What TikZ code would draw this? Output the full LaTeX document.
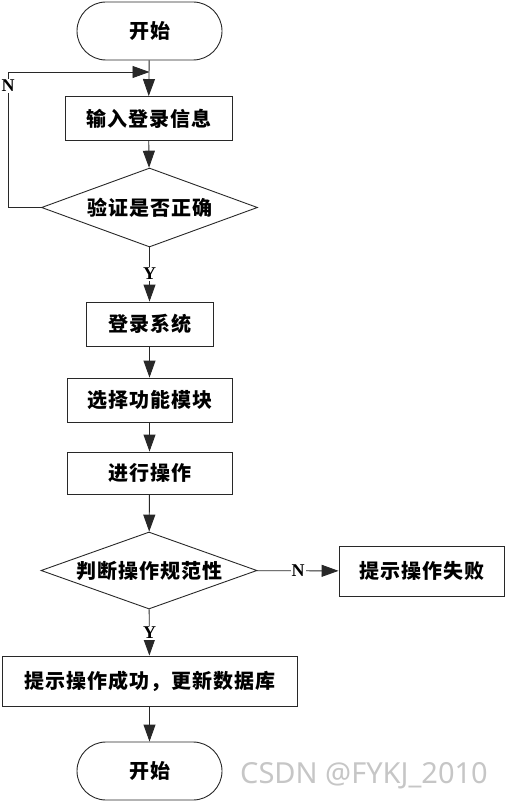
\documentclass[tikz,border=0pt]{standalone}
\usepackage{fontspec}
\setmainfont{Liberation Serif}
\newfontfamily\cjk{Noto Sans CJK SC}[LetterSpace=5]
\newfontfamily\wmfont{Noto Sans}
\usepackage{tikz}
\usetikzlibrary{shapes.geometric, arrows.meta, positioning}
\definecolor{edge}{RGB}{40, 40, 40}
\tikzstyle{terminal} = [rectangle, rounded corners=29pt, minimum width=145pt, minimum height=58pt, text centered, draw=edge, line width=0.9pt, font=\cjk\bfseries\fontsize{20}{23}\selectfont]
\tikzstyle{process} = [rectangle, minimum height=44pt, text centered, draw=edge, line width=0.9pt, font=\cjk\bfseries\fontsize{20}{23}\selectfont]
\tikzstyle{decision} = [diamond, aspect=2.7, inner sep=0pt, minimum width=216pt, minimum height=79pt, text centered, draw=edge, line width=0.9pt, font=\cjk\bfseries\fontsize{20}{23}\selectfont]
\tikzstyle{lbl} = [fill=white, inner sep=1pt, font=\bfseries\fontsize{18}{20}\selectfont]
\tikzstyle{arrow} = [line width=0.9pt, draw=edge, -{Triangle[width=12pt, length=17pt]}]

\begin{document}
\begin{tikzpicture}[x=1pt, y=-1pt]
    \useasboundingbox (0,0) rectangle (506,802);
    % Login part
    \node[terminal] (start) at (149.5, 31) {开始};
    \node[process, minimum width=167pt] (input) at (148.5, 118.5) {输入登录信息};
    \node[decision] (check) at (149.5, 207.5) {验证是否正确};
    \coordinate (join) at (149.5, 72);
    \coordinate (loopc) at (8, 72);
    
    % Main steps
    \node[process, minimum width=127pt] (login) at (149.5, 324) {登录系统};
    \node[process, minimum width=165pt] (choose) at (149.5, 400) {选择功能模块};
    \node[process, minimum width=165pt, minimum height=42pt] (operate) at (149.5, 473) {进行操作};
    \node[decision, minimum width=216pt, minimum height=77pt] (judge) at (149, 570.5) {判断操作规范性};
    \node[process, minimum width=165pt, minimum height=50pt] (fail) at (421.5, 571) {提示操作失败};
    \node[process, minimum width=295pt, minimum height=50pt] (success) at (149.5, 681) {提示操作成功，更新数据库};
    \node[terminal] (stop) at (149.5, 771) {开始};
    
    % Arrows
    \draw[arrow] (start) -- (input);
    \draw[arrow] (input) -- (check);
    \draw[arrow] (check.west) -| (loopc) -- (join);
    \node[lbl] (n1) at (8, 86) {N};
    \draw[arrow] (check) -- (login);
    \node[lbl] (y1) at (149.5, 274) {Y};
    \draw[arrow] (login) -- (choose);
    \draw[arrow] (choose) -- (operate);
    \draw[arrow] (operate) -- (judge);
    \draw[arrow] (judge) -- (fail);
    \node[lbl] (n2) at (298, 571) {N};
    \draw[arrow] (judge) -- (success);
    \node[lbl] (y2) at (149.5, 633) {Y};
    \draw[arrow] (success) -- (stop);
    
    % Watermark
    \node[text=gray!45, font=\wmfont\fontsize{29}{32}\selectfont] (mark) at (364, 776) {CSDN @FYKJ\_2010};
\end{tikzpicture}
\end{document}
